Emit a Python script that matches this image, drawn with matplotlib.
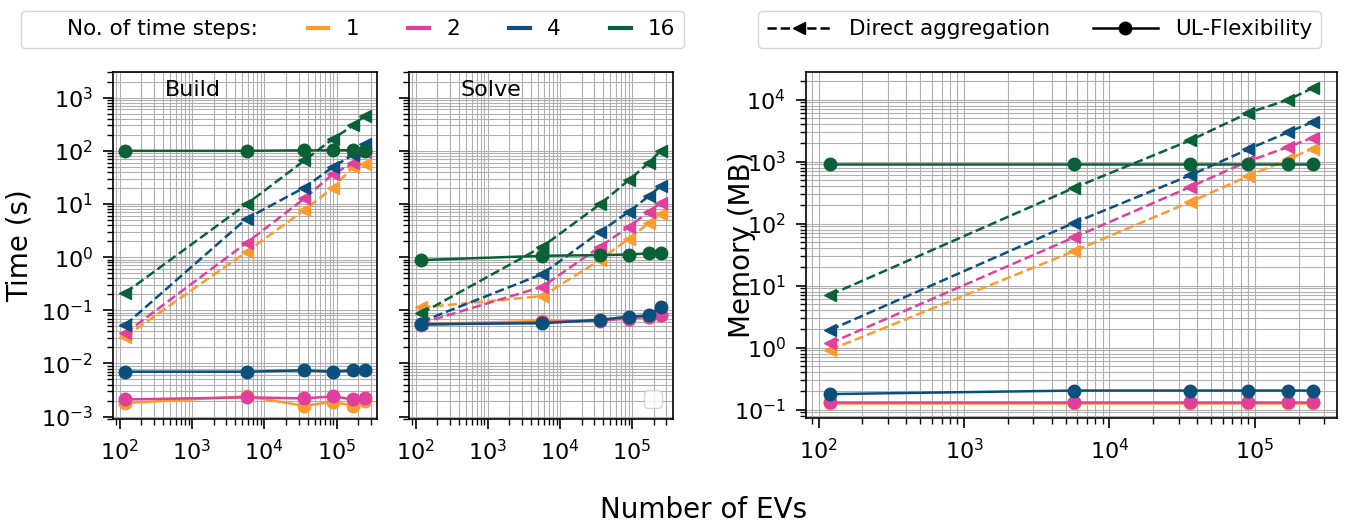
import matplotlib
matplotlib.use("Agg")
import matplotlib.pyplot as plt
from matplotlib.lines import Line2D
from matplotlib.ticker import LogLocator, NullFormatter

# --- data ---
n_evs = [120, 5700, 36000, 90000, 170000, 250000]
time_steps = [1, 2, 4, 16]
colors = {1: '#ff9a2e', 2: '#e0409b', 4: '#0b4f7c', 16: '#0a6137'}

build_direct = {
    1: [0.032, 1.26, 7.7, 20.4, 50, 57.5],
    2: [0.037, 1.86, 12.7, 37, 58, 95],
    4: [0.053, 5.3, 20.4, 50, 85, 137],
    16: [0.214, 9.9, 66, 170, 300, 460],
}
build_ul = {
    1: [0.0018, 0.0024, 0.0016, 0.0019, 0.0016, 0.0020],
    2: [0.0021, 0.0023, 0.0022, 0.0024, 0.0021, 0.0022],
    4: [0.0070, 0.0070, 0.0074, 0.0070, 0.0074, 0.0074],
    16: [100, 100, 102, 102, 103, 101],
}
solve_direct = {
    1: [0.113, 0.185, 0.88, 2.24, 4.3, 6.4],
    2: [0.057, 0.277, 1.57, 3.7, 7.1, 10.5],
    4: [0.061, 0.48, 3.0, 7.1, 14, 21.6],
    16: [0.0875, 1.57, 9.9, 28, 59, 100],
}
solve_ul = {
    1: [0.055, 0.063, 0.066, 0.072, 0.076, 0.082],
    2: [0.053, 0.060, 0.064, 0.070, 0.076, 0.082],
    4: [0.055, 0.057, 0.066, 0.076, 0.080, 0.113],
    16: [0.88, 1.06, 1.09, 1.12, 1.18, 1.21],
}
mem_direct = {
    1: [0.92, 36, 225, 583, 1100, 1625],
    2: [1.18, 60, 392, 1016, 1730, 2444],
    4: [1.93, 103, 604, 1585, 3000, 4380],
    16: [7.1, 378, 2213, 6100, 10000, 15400],
}
mem_ul = {
    1: [0.13, 0.13, 0.13, 0.13, 0.13, 0.13],
    2: [0.135, 0.135, 0.135, 0.135, 0.135, 0.135],
    4: [0.178, 0.203, 0.203, 0.203, 0.203, 0.203],
    16: [930, 930, 930, 930, 930, 930],
}

TICK_FS = 16
LABEL_FS = 20
LW = 1.8
MS = 9

fig = plt.figure(figsize=(13.47, 5.27), dpi=100)
ax_b = fig.add_axes([0.0841, 0.2049, 0.196, 0.6579])
ax_s = fig.add_axes([0.3039, 0.2049, 0.1955, 0.6579], sharey=ax_b)
ax_m = fig.add_axes([0.5984, 0.2063, 0.3941, 0.6565])


def draw(ax, direct, ul):
    for ts in time_steps:
        c = colors[ts]
        ax.plot(n_evs, direct[ts], '--', marker='<', color=c, lw=LW, ms=MS)
        ax.plot(n_evs, ul[ts], '-', marker='o', color=c, lw=LW, ms=MS)
    ax.set_xscale('log')
    ax.set_yscale('log')
    for axis in (ax.xaxis, ax.yaxis):
        axis.set_major_locator(LogLocator(base=10, numticks=20))
        axis.set_minor_locator(LogLocator(base=10, subs=range(2, 10), numticks=20))
        axis.set_minor_formatter(NullFormatter())
    ax.grid(True, which='both', color='#b0b0b0', lw=0.8)
    ax.tick_params(which='major', labelsize=TICK_FS, length=7.5, width=1.2, pad=7)
    ax.tick_params(which='minor', length=4, width=1.0)
    for sp in ax.spines.values():
        sp.set_linewidth(1.2)


draw(ax_b, build_direct, build_ul)
draw(ax_s, solve_direct, solve_ul)
draw(ax_m, mem_direct, mem_ul)

ax_b.set_ylim(9e-4, 3e3)
ax_s.tick_params(labelleft=False)
ax_s.legend(handles=[], loc='lower right', fontsize=16)

ax_b.text(0.3, 0.95, 'Build', transform=ax_b.transAxes, ha='center', va='center', fontsize=16)
ax_s.text(0.31, 0.95, 'Solve', transform=ax_s.transAxes, ha='center', va='center', fontsize=16)

ax_b.set_ylabel('Time (s)', fontsize=LABEL_FS)
ax_b.yaxis.set_label_coords(-0.30, 0.5)
ax_m.set_ylabel('Memory (MB)', fontsize=LABEL_FS)
ax_m.yaxis.set_label_coords(-0.095, 0.5)

fig.text(0.5226, 0.032, 'Number of EVs', ha='center', va='center', fontsize=LABEL_FS)

# legend with the colours
h1 = [Line2D([], [], color='none')]
l1 = ['No. of time steps:']
for ts in time_steps:
    h1.append(Line2D([], [], color=colors[ts], lw=3))
    l1.append(str(ts))
fig.legend(h1, l1, ncol=5, loc='upper center', bbox_to_anchor=(0.2617, 1.0),
           fontsize=15.5, handlelength=0.95, columnspacing=2.3)

# legend with the line styles
h2 = [Line2D([], [], color='k', ls='--', marker='<', lw=LW, ms=MS),
      Line2D([], [], color='k', ls='-', marker='o', lw=LW, ms=MS)]
l2 = ['Direct aggregation', 'UL-Flexibility']
fig.legend(h2, l2, ncol=2, loc='upper center', bbox_to_anchor=(0.7717, 1.0),
           fontsize=15.5, handlelength=3.0)

fig.savefig('out.png', dpi=100)
